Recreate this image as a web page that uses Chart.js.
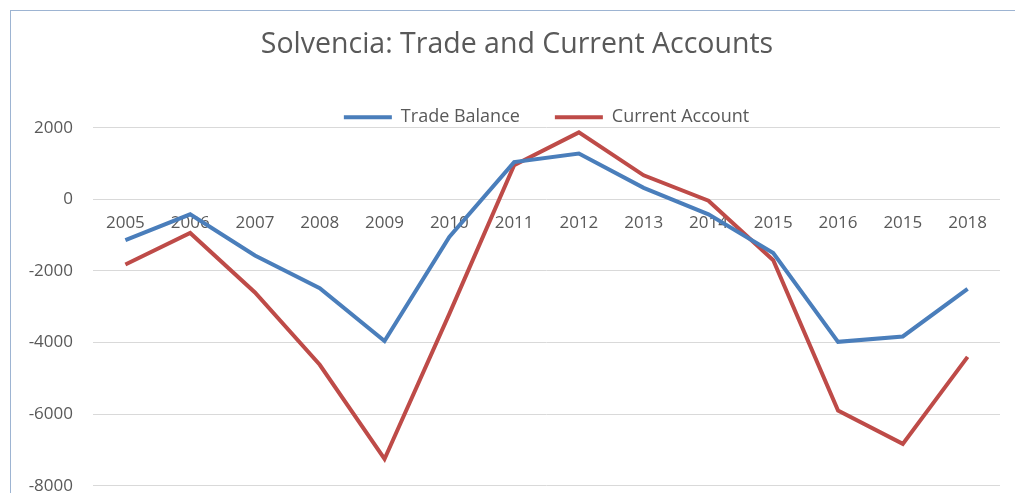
<!DOCTYPE html>
<html>
<head>
<meta charset="utf-8">
<script src="https://cdn.jsdelivr.net/npm/chart.js@4.4.1/dist/chart.umd.min.js"></script>
<style>
  html, body { margin: 0; padding: 0; background: #fff; overflow: hidden; }
  #frame { position: absolute; left: 10px; top: 10px; width: 1100px; height: 600px;
           border-left: 1px solid #9db4d2; border-top: 1px solid #9db4d2; }
  #chart { position: absolute; left: 0; top: 0; }
</style>
</head>
<body>
<div id="frame"></div>
<!-- canvas is a bit taller than the window: the bottom of the chart is cut off like the source -->
<canvas id="chart" width="1015" height="516"></canvas>
<script>
// years as printed on the axis (the second 2015 is in the original)
const years = ["2005", "2006", "2007", "2008", "2009", "2010", "2011",
               "2012", "2013", "2014", "2015", "2016", "2015", "2018"];

const tradeBalance = [-1140, -420, -1570, -2480, -3960, -1050, 1040,
                      1280, 320, -420, -1500, -3980, -3830, -2500];

const currentAccount = [-1820, -940, -2600, -4620, -7250, -3200, 950,
                        1870, 670, -40, -1700, -5900, -6830, -4400];

const yTicks = [2000, 0, -2000, -4000, -6000, -8000];

const grey = "#595959";

new Chart(document.getElementById("chart"), {
  type: "line",
  data: {
    labels: years,
    datasets: [
      {
        label: "Trade Balance",
        data: tradeBalance,
        borderColor: "#4a7ebb",
        backgroundColor: "#4a7ebb",
        borderWidth: 4,
        pointRadius: 0,
        tension: 0,
      },
      {
        label: "Current Account",
        data: currentAccount,
        borderColor: "#be4b48",
        backgroundColor: "#be4b48",
        borderWidth: 4,
        pointRadius: 0,
        tension: 0,
      },
    ],
  },
  options: {
    responsive: false,
    animation: false,
    // right padding tiny so the title centres like the source; spacer axis keeps plot edge at 1000
    layout: { padding: { left: 20, right: 1, top: 0, bottom: 8 } },
    plugins: {
      title: {
        display: true,
        text: "Solvencia: Trade and Current Accounts",
        color: grey,
        font: { family: "Open Sans", size: 28.5, weight: "normal" },
        padding: { top: 28, bottom: 11 },
      },
      legend: {
        display: true,
        fullSize: false,
        maxHeight: 54.5,
        labels: {
          boxWidth: 48,
          boxHeight: 0,
          padding: 35,
          color: grey,
          font: { family: "Open Sans", size: 18 },
        },
      },
      tooltip: { enabled: false },
    },
    scales: {
      x: {
        position: { y: 0 },
        offset: true,
        grid: { display: false },
        border: { display: false },
        ticks: {
          color: grey,
          font: { family: "Open Sans", size: 17 },
          padding: 6,
          maxRotation: 0,
          autoSkip: false,
        },
      },
      y: {
        min: -8000,
        max: 2000,
        afterFit: (scale) => { scale.width = 73; },
        afterBuildTicks: (scale) => { scale.ticks = yTicks.map((v) => ({ value: v })); },
        grid: { color: "#d9d9d9", lineWidth: 1, drawTicks: false },
        border: { display: false },
        ticks: {
          color: grey,
          font: { family: "Open Sans", size: 17 },
          padding: 20,
          callback: (v) => String(v),
        },
      },
      spacer: {
        type: "linear",
        position: "right",
        afterFit: (scale) => { scale.width = 14; },
        grid: { display: false },
        border: { display: false },
        ticks: { display: false },
      },
    },
  },
});
</script>
</body>
</html>
